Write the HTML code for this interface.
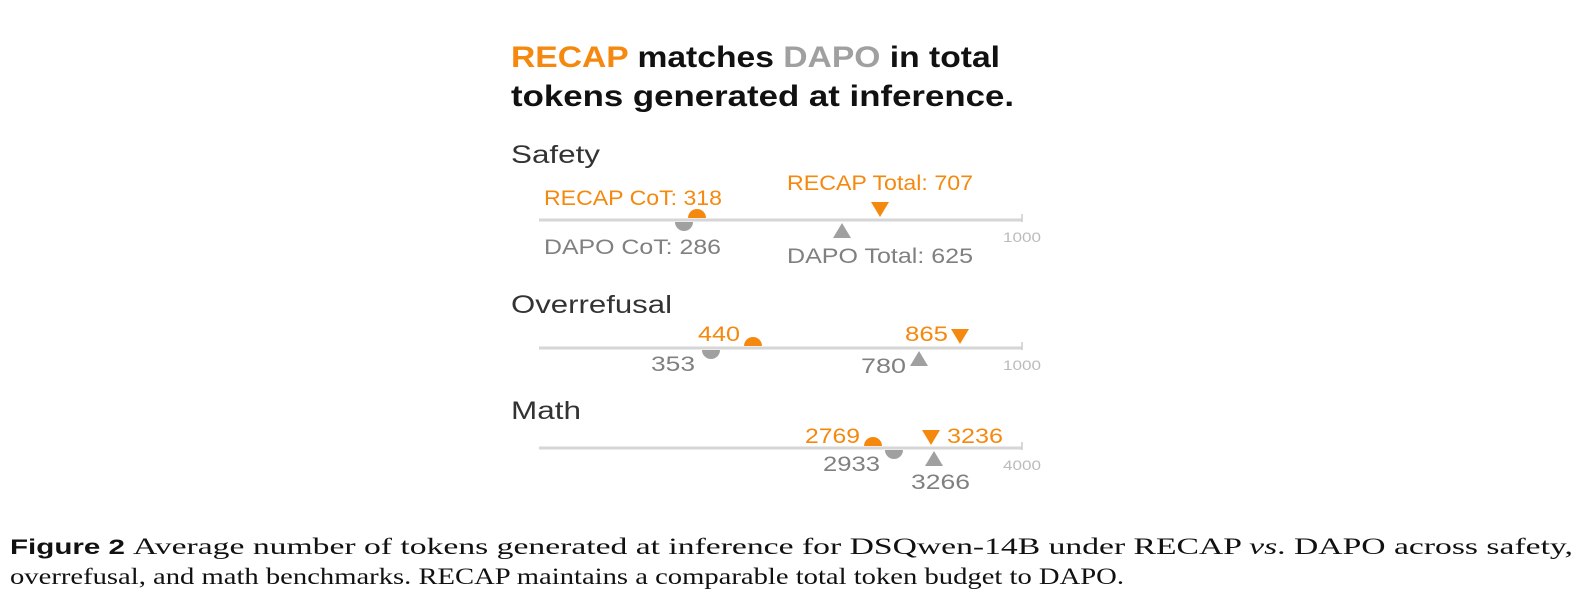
<!DOCTYPE html>
<html><head><meta charset="utf-8"><style>
html,body{margin:0;padding:0;background:#fff;}
svg{display:block;}
</style></head><body>
<svg width="1584" height="614" viewBox="0 0 1584 614" xmlns="http://www.w3.org/2000/svg">
<g font-family="Liberation Sans, sans-serif" lengthAdjust="spacingAndGlyphs">
<text x="511" y="67" font-size="30" font-weight="bold" fill="#111" textLength="489" lengthAdjust="spacingAndGlyphs"><tspan fill="#f5890f">RECAP</tspan> matches <tspan fill="#a0a0a0">DAPO</tspan> in total</text>
<text x="511" y="106" font-size="30" font-weight="bold" fill="#111" textLength="503" lengthAdjust="spacingAndGlyphs">tokens generated at inference.</text>

<!-- Safety -->
<text x="511" y="163" font-size="25" fill="#333" textLength="89" lengthAdjust="spacingAndGlyphs">Safety</text>
<line x1="539" y1="220" x2="1022" y2="220" stroke="#d6d6d6" stroke-width="3"/>
<line x1="1022" y1="214" x2="1022" y2="222" stroke="#ccc" stroke-width="1.5"/>
<text x="1003" y="242" font-size="14" fill="#bbb" textLength="38" lengthAdjust="spacingAndGlyphs">1000</text>
<path d="M688,218 a9,9 0 0 1 18,0 z" fill="#f5890f"/>
<path d="M675,222 a9,9 0 0 0 18,0 z" fill="#a0a0a0"/>
<path d="M871,202 L889,202 L880,217 z" fill="#f5890f"/>
<path d="M833,238 L851,238 L842,223 z" fill="#a0a0a0"/>
<text x="544" y="205" font-size="21" fill="#f5890f" textLength="178" lengthAdjust="spacingAndGlyphs">RECAP CoT: 318</text>
<text x="787" y="190" font-size="21" fill="#f5890f" textLength="186" lengthAdjust="spacingAndGlyphs">RECAP Total: 707</text>
<text x="544" y="254" font-size="21" fill="#808080" textLength="177" lengthAdjust="spacingAndGlyphs">DAPO CoT: 286</text>
<text x="787" y="263" font-size="21" fill="#808080" textLength="186" lengthAdjust="spacingAndGlyphs">DAPO Total: 625</text>

<!-- Overrefusal -->
<text x="511" y="313" font-size="25" fill="#333" textLength="161" lengthAdjust="spacingAndGlyphs">Overrefusal</text>
<line x1="539" y1="348" x2="1022" y2="348" stroke="#d6d6d6" stroke-width="3"/>
<line x1="1022" y1="342" x2="1022" y2="350" stroke="#ccc" stroke-width="1.5"/>
<text x="1003" y="370" font-size="14" fill="#bbb" textLength="38" lengthAdjust="spacingAndGlyphs">1000</text>
<path d="M744,346 a9,9 0 0 1 18,0 z" fill="#f5890f"/>
<path d="M702,350 a9,9 0 0 0 18,0 z" fill="#a0a0a0"/>
<path d="M951,329 L969,329 L960,344 z" fill="#f5890f"/>
<path d="M910,366 L928,366 L919,351 z" fill="#a0a0a0"/>
<text x="698" y="341" font-size="21" fill="#f5890f" textLength="42" lengthAdjust="spacingAndGlyphs">440</text>
<text x="905" y="341" font-size="21" fill="#f5890f" textLength="43" lengthAdjust="spacingAndGlyphs">865</text>
<text x="651" y="371" font-size="21" fill="#808080" textLength="44" lengthAdjust="spacingAndGlyphs">353</text>
<text x="861" y="373" font-size="21" fill="#808080" textLength="45" lengthAdjust="spacingAndGlyphs">780</text>

<!-- Math -->
<text x="511" y="419" font-size="25" fill="#333" textLength="70" lengthAdjust="spacingAndGlyphs">Math</text>
<line x1="539" y1="448" x2="1022" y2="448" stroke="#d6d6d6" stroke-width="3"/>
<line x1="1022" y1="442" x2="1022" y2="450" stroke="#ccc" stroke-width="1.5"/>
<text x="1003" y="470" font-size="14" fill="#bbb" textLength="38" lengthAdjust="spacingAndGlyphs">4000</text>
<path d="M864,446 a9,9 0 0 1 18,0 z" fill="#f5890f"/>
<path d="M885,450 a9,9 0 0 0 18,0 z" fill="#a0a0a0"/>
<path d="M922,430 L940,430 L931,445 z" fill="#f5890f"/>
<path d="M925,466 L943,466 L934,451 z" fill="#a0a0a0"/>
<text x="805" y="443" font-size="21" fill="#f5890f" textLength="55" lengthAdjust="spacingAndGlyphs">2769</text>
<text x="947" y="443" font-size="21" fill="#f5890f" textLength="56" lengthAdjust="spacingAndGlyphs">3236</text>
<text x="823" y="471" font-size="21" fill="#808080" textLength="57" lengthAdjust="spacingAndGlyphs">2933</text>
<text x="911" y="489" font-size="21" fill="#808080" textLength="59" lengthAdjust="spacingAndGlyphs">3266</text>
</g>

<text x="10" y="554" font-family="Liberation Sans, sans-serif" font-size="21" font-weight="bold" fill="#111" textLength="115" lengthAdjust="spacingAndGlyphs">Figure 2</text>
<text x="133" y="554" font-family="Liberation Serif, serif" font-size="23" fill="#111" textLength="1440" lengthAdjust="spacingAndGlyphs">Average number of tokens generated at inference for DSQwen-14B under RECAP <tspan font-style="italic">vs</tspan>. DAPO across safety,</text>
<text x="10" y="584" font-family="Liberation Serif, serif" font-size="23" fill="#111" textLength="1114" lengthAdjust="spacingAndGlyphs">overrefusal, and math benchmarks. RECAP maintains a comparable total token budget to DAPO.</text>
</svg>
</body></html>
